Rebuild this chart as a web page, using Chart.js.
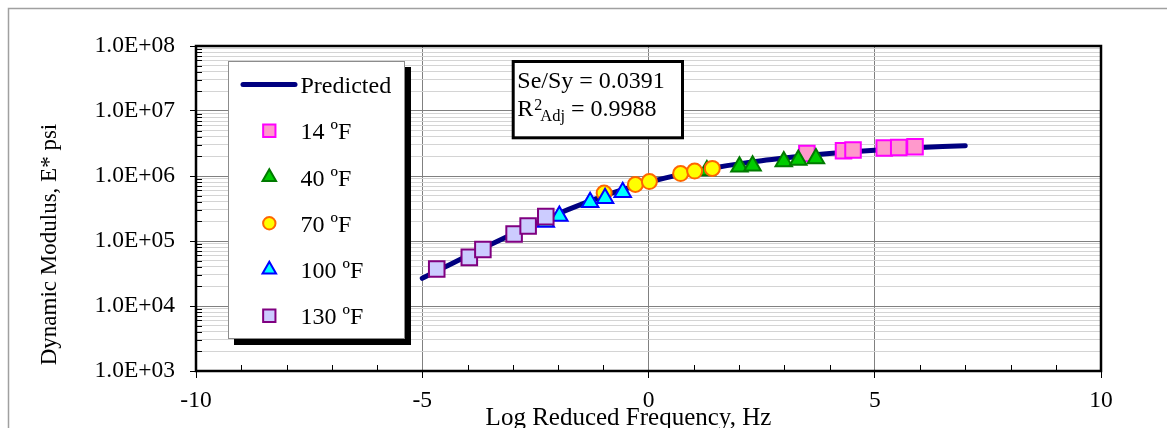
<!DOCTYPE html>
<html>
<head>
<meta charset="utf-8">
<script src="https://cdn.jsdelivr.net/npm/chart.js@4.4.1/dist/chart.umd.min.js"></script>
<style>
  html, body { margin: 0; padding: 0; background: #ffffff; }
  canvas { display: block; }
</style>
</head>
<body>
<canvas id="master" width="1167" height="428"></canvas>
<script>
// Dynamic modulus master curve: measured |E*| vs log reduced frequency

const SERIF = '"Liberation Serif", "Times New Roman", serif';

// Axis tick labels
const xLabelValues = [-10, -5, 0, 5, 10];
const xTickLabels = ['-10', '-5', '0', '5', '10'];
const yLabelValues = [1e3, 1e4, 1e5, 1e6, 1e7, 1e8];
const yTickLabels = ['1.0E+03', '1.0E+04', '1.0E+05', '1.0E+06', '1.0E+07', '1.0E+08'];

// Fitted (predicted) master curve
const predictedLogFreq = [-5, -4.5, -4, -3.5, -3, -2.5, -2, -1.5, -1, -0.5, 0, 0.5, 1,
                          1.5, 2, 2.5, 3, 3.5, 4, 4.5, 5, 5.5, 6, 6.5, 7];
const predictedModulus = [26700, 39800, 59200, 87500, 128200, 185400, 263000, 363100, 489800,
                          638300, 803500, 977200, 1161000, 1349000, 1535000, 1718000, 1892000,
                          2061000, 2218000, 2366000, 2500000, 2624000, 2735000, 2838000, 2931000];

// Measured values, shifted to the reference temperature
const temp14LogFreq = [3.50, 4.31, 4.52, 5.21, 5.53, 5.89];
const temp14Modulus = [2220000, 2450000, 2510000, 2700000, 2740000, 2810000];

const temp40LogFreq = [1.29, 2.01, 2.30, 2.99, 3.31, 3.70];
const temp40Modulus = [1210000, 1390000, 1440000, 1670000, 1760000, 1860000];

const temp70LogFreq = [-0.98, -0.29, 0.02, 0.71, 1.02, 1.41];
const temp70Modulus = [547000, 740000, 820000, 1090000, 1190000, 1310000];

const temp100LogFreq = [-2.27, -1.97, -1.29, -0.96, -0.57];
const temp100Modulus = [196000, 243000, 394000, 454000, 560000];

const temp130LogFreq = [-4.68, -3.96, -3.66, -2.97, -2.66, -2.27];
const temp130Modulus = [37000, 56000, 74000, 128000, 170000, 237000];

const fitStats = { seSy: '0.0391', r2Adj: '0.9988' };

function pairs(xs, ys) {
  return xs.map((x, i) => ({ x: x, y: ys[i] }));
}

const measured = [
  { label: '14 ºF',  x: temp14LogFreq,  y: temp14Modulus,  shape: 'rect',     fill: '#ff99cc', edge: '#ff00ff', r: 11,  lr: 8.7 },
  { label: '40 ºF',  x: temp40LogFreq,  y: temp40Modulus,  shape: 'triangle', fill: '#00cc00', edge: '#007a00', r: 9.5, lr: 7.8 },
  { label: '70 ºF',  x: temp70LogFreq,  y: temp70Modulus,  shape: 'circle',   fill: '#ffff00', edge: '#ff6600', r: 7.5, lr: 6.2 },
  { label: '100 ºF', x: temp100LogFreq, y: temp100Modulus, shape: 'triangle', fill: '#00ffff', edge: '#0000ff', r: 9.5, lr: 7.8 },
  { label: '130 ºF', x: temp130LogFreq, y: temp130Modulus, shape: 'rect',     fill: '#ccccff', edge: '#800080', r: 11,  lr: 8.7 }
];

const datasets = [{
  label: 'Predicted',
  data: pairs(predictedLogFreq, predictedModulus),
  showLine: true,
  borderColor: '#000080',
  borderWidth: 5,
  borderCapStyle: 'round',
  borderJoinStyle: 'round',
  cubicInterpolationMode: 'monotone',
  pointRadius: 0,
  order: 10
}];
measured.forEach((s, i) => {
  datasets.push({
    label: s.label,
    data: pairs(s.x, s.y),
    showLine: false,
    pointStyle: s.shape,
    pointRadius: s.r,
    backgroundColor: s.fill,
    borderColor: s.edge,
    pointBorderWidth: 2,
    order: 5 - i
  });
});

function isDecade(v) {
  const l = Math.log10(v);
  return Math.abs(l - Math.round(l)) < 1e-9;
}

// Frame, borders, inner ticks, legend, statistics box and axis titles
const decorations = {
  id: 'decorations',
  beforeDraw(chart) {
    const ctx = chart.ctx;
    ctx.save();
    ctx.fillStyle = '#ffffff';
    ctx.fillRect(0, 0, chart.width, chart.height);
    ctx.strokeStyle = '#a0a0a0';
    ctx.lineWidth = 1.5;
    ctx.beginPath();
    ctx.moveTo(8.5, chart.height + 2);
    ctx.lineTo(8.5, 8.5);
    ctx.lineTo(chart.width + 2, 8.5);
    ctx.stroke();
    ctx.restore();
  },
  beforeDatasetsDraw(chart) {
    const ctx = chart.ctx;
    const a = chart.chartArea;
    const xs = chart.scales.x, ys = chart.scales.y;
    ctx.save();
    ctx.strokeStyle = '#000000';
    ctx.lineWidth = 1;
    ctx.beginPath();
    // minor ticks pointing into the plot
    ys.ticks.forEach(t => {
      if (!isDecade(t.value)) {
        const py = Math.round(ys.getPixelForValue(t.value)) + 0.5;
        ctx.moveTo(a.left, py);
        ctx.lineTo(a.left + 6, py);
      }
    });
    xs.ticks.forEach(t => {
      if (t.value % 5 !== 0) {
        const px = Math.round(xs.getPixelForValue(t.value)) + 0.5;
        ctx.moveTo(px, a.bottom);
        ctx.lineTo(px, a.bottom - 6);
      }
    });
    ctx.stroke();
    ctx.lineWidth = 2.5;
    ctx.strokeRect(a.left, a.top, a.right - a.left, a.bottom - a.top);
    ctx.restore();
  },
  afterDraw(chart) {
    const ctx = chart.ctx;
    ctx.save();

    // legend with drop shadow
    const bx = 228.5, by = 61.5, bw = 176, bh = 277;
    ctx.fillStyle = '#000000';
    ctx.fillRect(bx + 5.5, by + 5.5, bw + 1, bh + 1);
    ctx.fillStyle = '#ffffff';
    ctx.fillRect(bx, by, bw, bh);
    ctx.strokeStyle = '#8c8c8c';
    ctx.lineWidth = 1;
    ctx.strokeRect(bx, by, bw, bh);

    const rowY0 = 84.5, rowGap = 46.25, symX = 269.3, textX = 300.5;
    ctx.font = '24px ' + SERIF;
    ctx.textBaseline = 'alphabetic';
    ctx.textAlign = 'left';

    ctx.strokeStyle = '#000080';
    ctx.lineWidth = 5;
    ctx.lineCap = 'round';
    ctx.beginPath();
    ctx.moveTo(243, rowY0);
    ctx.lineTo(295, rowY0);
    ctx.stroke();
    ctx.lineCap = 'butt';
    ctx.fillStyle = '#000000';
    ctx.fillText(datasets[0].label, textX, rowY0 + 8.8);

    measured.forEach((s, i) => {
      const cy = rowY0 + rowGap * (i + 1);
      ctx.fillStyle = s.fill;
      ctx.strokeStyle = s.edge;
      ctx.lineWidth = 2;
      Chart.helpers.drawPoint(ctx, { pointStyle: s.shape, radius: s.lr, rotation: 0, borderWidth: 2 }, symX, cy);
      ctx.fillStyle = '#000000';
      ctx.fillText(s.label, textX, cy + 8.5);
    });

    // fit statistics box
    ctx.fillStyle = '#ffffff';
    ctx.fillRect(513, 61.5, 170, 76.5);
    ctx.strokeStyle = '#000000';
    ctx.lineWidth = 3;
    ctx.strokeRect(513.2, 61.5, 169.3, 76.3);
    ctx.fillStyle = '#000000';
    ctx.font = '24px ' + SERIF;
    ctx.fillText('Se/Sy = ' + fitStats.seSy, 517.3, 87.7);
    let tx = 517.3;
    ctx.fillText('R', tx, 115.7);
    tx += ctx.measureText('R').width + 1;
    ctx.font = '16px ' + SERIF;
    ctx.fillText('2', tx, 110);
    tx += ctx.measureText('2').width - 2;
    ctx.font = '16.5px ' + SERIF;
    ctx.fillText('Adj', tx, 121);
    tx += ctx.measureText('Adj').width;
    ctx.font = '24px ' + SERIF;
    ctx.fillText(' = ' + fitStats.r2Adj, tx, 115.7);

    // axis titles
    ctx.font = '25px ' + SERIF;
    ctx.textAlign = 'center';
    ctx.fillText('Log Reduced Frequency, Hz', 628.5, 425);

    ctx.save();
    ctx.translate(50, 244.5);
    ctx.rotate(-Math.PI / 2);
    ctx.font = '23px ' + SERIF;
    ctx.textBaseline = 'middle';
    ctx.fillText('Dynamic Modulus, E* psi', 0, 0);
    ctx.restore();

    ctx.restore();
  }
};

new Chart(document.getElementById('master'), {
  type: 'scatter',
  data: { datasets: datasets },
  options: {
    responsive: false,
    animation: false,
    events: [],
    layout: { padding: { left: 0, right: 66, top: 46, bottom: 0 } },
    plugins: { legend: { display: false }, tooltip: { enabled: false } },
    scales: {
      x: {
        type: 'linear',
        min: -10,
        max: 10,
        afterBuildTicks(scale) {
          const t = [];
          for (let v = -10; v <= 10; v++) t.push({ value: v });
          scale.ticks = t;
        },
        afterFit(scale) { scale.height = 57; },
        border: { display: false },
        grid: {
          drawTicks: true,
          tickLength: 7,
          lineWidth: 1,
          color: ctx => (ctx.tick && ctx.tick.value % 5 === 0 && Math.abs(ctx.tick.value) !== 10) ? '#808080' : 'rgba(0,0,0,0)',
          tickColor: ctx => (ctx.tick && ctx.tick.value % 5 === 0) ? '#000000' : 'rgba(0,0,0,0)'
        },
        ticks: {
          autoSkip: false,
          maxRotation: 0,
          minRotation: 0,
          padding: 9,
          color: '#000000',
          font: { family: SERIF, size: 23.5 },
          callback: v => {
            const i = xLabelValues.indexOf(v);
            return i >= 0 ? xTickLabels[i] : '';
          }
        }
      },
      y: {
        type: 'logarithmic',
        min: 1e3,
        max: 1e8,
        afterBuildTicks(scale) {
          const t = [];
          for (let e = 3; e < 8; e++) {
            for (let k = 1; k <= 9; k++) t.push({ value: k * Math.pow(10, e) });
          }
          t.push({ value: 1e8 });
          scale.ticks = t;
        },
        afterFit(scale) { scale.width = 196; },
        border: { display: false },
        grid: {
          drawTicks: true,
          tickLength: 6,
          lineWidth: 1,
          color: ctx => {
            if (!ctx.tick) return 'rgba(0,0,0,0)';
            const v = ctx.tick.value;
            if (v === 1e3 || v === 1e8) return 'rgba(0,0,0,0)';
            return isDecade(v) ? '#808080' : '#d4d4d4';
          },
          tickColor: ctx => (ctx.tick && isDecade(ctx.tick.value)) ? '#000000' : 'rgba(0,0,0,0)'
        },
        ticks: {
          autoSkip: false,
          padding: 15,
          color: '#000000',
          font: { family: SERIF, size: 23.5 },
          callback: v => {
            const i = yLabelValues.indexOf(v);
            return i >= 0 ? yTickLabels[i] : '';
          }
        }
      }
    }
  },
  plugins: [decorations]
});
</script>
</body>
</html>
